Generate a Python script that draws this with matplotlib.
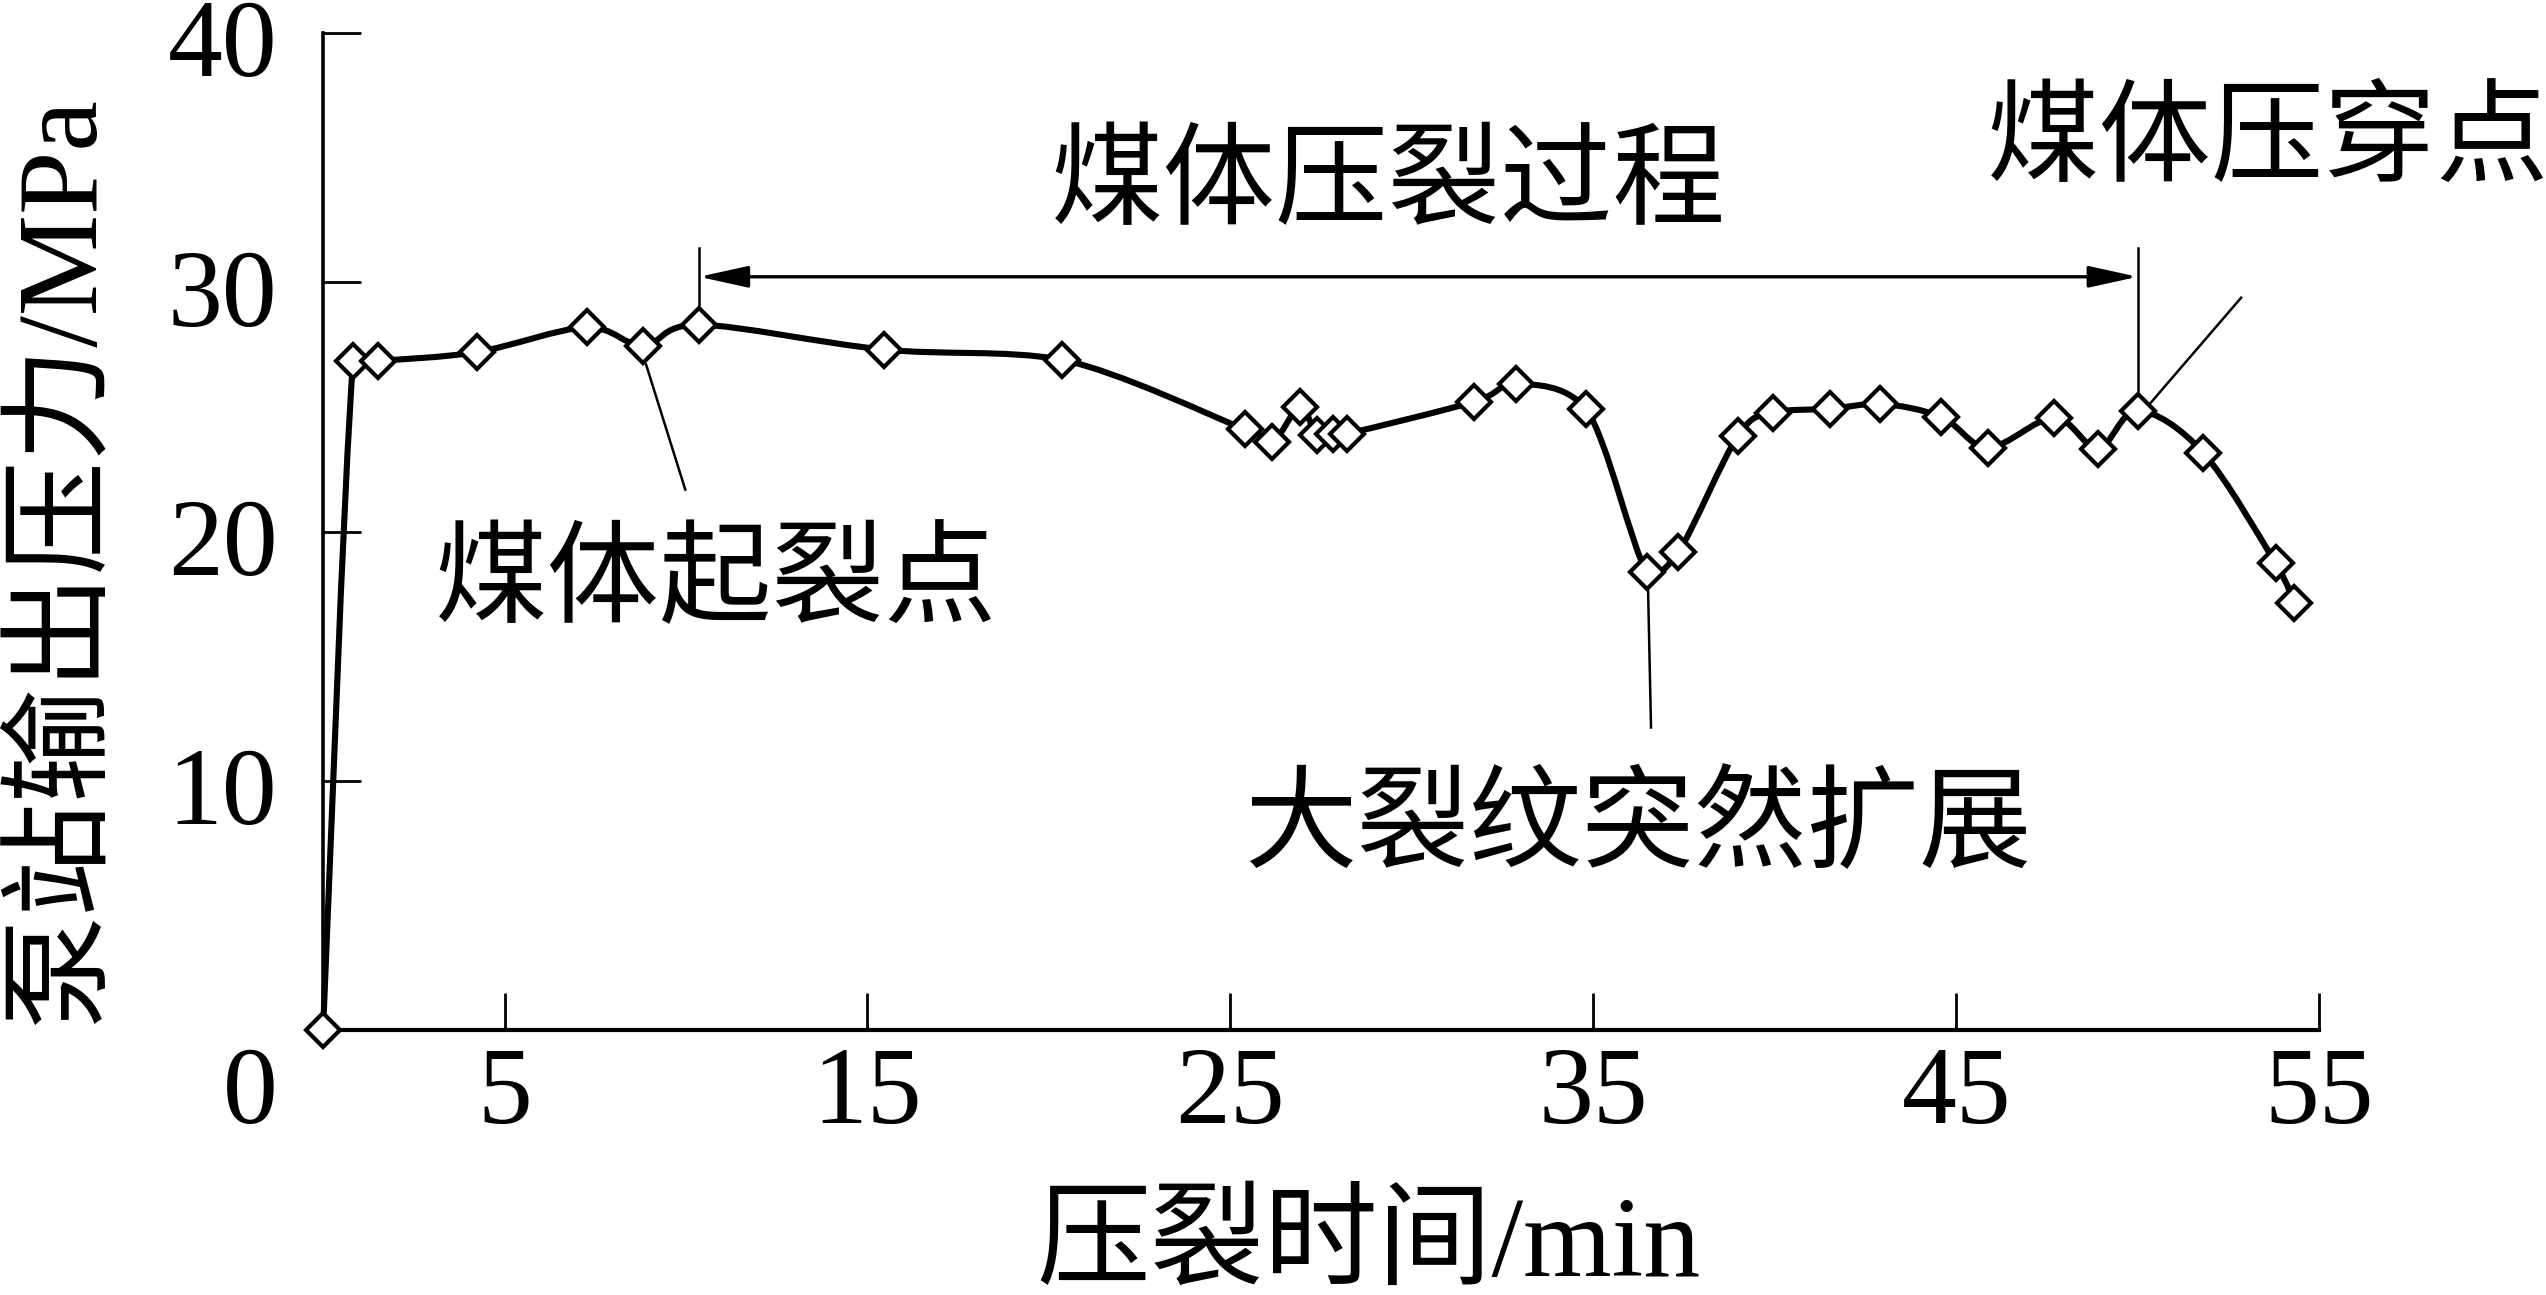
import numpy as np
import matplotlib
matplotlib.use("Agg")
import matplotlib.pyplot as plt
import matplotlib.transforms as mtransforms
from matplotlib.path import Path
from matplotlib.patches import PathPatch

plt.rcParams['font.family'] = ['Liberation Serif', 'Noto Sans CJK SC']

# temps de fracturation (min) et pression de sortie de la pompe (MPa)
temps = [0, 0.83, 1.52, 4.24, 7.27, 8.82, 10.36, 15.46, 20.36, 25.4, 26.15, 26.92,
         27.38, 27.82, 28.2, 31.7, 32.87, 34.8, 36.48, 37.34, 38.99, 39.96, 41.53,
         42.9, 44.59, 45.88, 47.7, 48.9, 50.0, 51.8, 53.8, 54.3]
pression = [0, 26.85, 26.85, 27.2, 28.2, 27.45, 28.3, 27.3, 26.9, 24.1, 23.6, 25.0,
            23.88, 23.92, 23.92, 25.2, 25.93, 24.93, 18.36, 19.16, 23.85, 24.77, 24.93,
            25.13, 24.6, 23.37, 24.57, 23.33, 24.85, 23.17, 18.72, 17.15]

xticks = [5, 15, 25, 35, 45, 55]
yticks = [10, 20, 30, 40]

i_debut = 6    # 煤体压裂过程 debut
i_fin = 28     # 煤体压穿点
i_qilie = 5    # 煤体起裂点
i_kuozhan = 18 # 大裂纹突然扩展

fig = plt.figure(figsize=(25.46, 12.95), dpi=100)
ax = fig.add_axes([0.1269, 0.2046, 0.784, 0.7699])

# courbe lissee (bezier type catmull-rom, points de controle bornes pour eviter les depassements)
P = np.column_stack([temps, pression])
n = len(P)
verts = [P[0]]
codes = [Path.MOVETO]
for i in range(n - 1):
    p0 = P[i - 1] if i > 0 else P[i]
    p3 = P[i + 2] if i + 2 < n else P[i + 1]
    c1 = P[i] + (P[i + 1] - p0) / 6
    c2 = P[i + 1] - (p3 - P[i]) / 6
    lo, hi = min(P[i][1], P[i + 1][1]), max(P[i][1], P[i + 1][1])
    c1[1] = np.clip(c1[1], lo, hi)
    c2[1] = np.clip(c2[1], lo, hi)
    verts += [c1, c2, P[i + 1]]
    codes += [Path.CURVE4] * 3
ax.add_patch(PathPatch(Path(verts, codes), fill=False, lw=4.4, ec='black',
                       zorder=3, clip_on=False))
ax.plot(temps, pression, ls='none', marker='D', ms=17.5, mfc='white', mec='black',
        mew=3, clip_on=False, zorder=4)

ax.set_xlim(0, 55)
ax.set_ylim(0, 40)
ax.set_xticks(xticks)
ax.set_yticks(yticks)
for s in ['top', 'right']:
    ax.spines[s].set_visible(False)
ax.spines['left'].set_linewidth(2.6)
ax.spines['bottom'].set_linewidth(3.0)
ax.tick_params(direction='in', length=27, width=2, labelsize=79)
ax.tick_params(axis='x', pad=12)
ax.tick_params(axis='y', pad=33)
decalage = mtransforms.ScaledTranslation(0, -5 / 100, fig.dpi_scale_trans)
for lbl in ax.get_yticklabels():
    lbl.set_transform(lbl.get_transform() + decalage)
ax.annotate('0', xy=(0, 0), xytext=(-33, -12), textcoords='offset points',
            ha='right', va='top', fontsize=79)

fig.text(1368 / 2546, 0.015, '压裂时间/min', ha='center', va='baseline', fontsize=82)
fig.text(0.0247, 1 - 560 / 1295, '泵站输出压力/MPa', rotation=90, ha='center',
         va='center', fontsize=82)

# fleche du processus de fracturation
ax.annotate('', xy=(temps[i_debut], 30.22), xytext=(temps[i_fin], 30.22),
            arrowprops=dict(arrowstyle='<|-|>,head_length=1.5,head_width=0.33',
                            mutation_scale=20, lw=2.4, color='black',
                            shrinkA=0, shrinkB=0))
ax.plot([temps[i_debut]] * 2, [31.38, pression[i_debut] + 0.8], color='black', lw=1.8)
ax.plot([temps[i_fin]] * 2, [31.38, pression[i_fin] + 0.8], color='black', lw=1.8)
ax.text(29.35, 33.75, '煤体压裂过程', ha='center', va='center', fontsize=81)

# lignes de rappel
ax.plot([temps[i_qilie] + 0.08, 9.98], [pression[i_qilie] - 0.75, 21.68], color='black', lw=1.8)
ax.text(10.83, 17.83, '煤体起裂点', ha='center', va='center', fontsize=81)
ax.plot([temps[i_kuozhan] + 0.03, 36.59], [pression[i_kuozhan] - 0.75, 12.14], color='black', lw=1.8)
ax.text(36.24, 8.0, '大裂纹突然扩展', ha='center', va='center', fontsize=81)
ax.plot([temps[i_fin] + 0.35, 52.85], [pression[i_fin] + 0.3, 29.38], color='black', lw=1.8,
        clip_on=False)
ax.text(53.6, 35.5, '煤体压穿点', ha='center', va='center', fontsize=81, clip_on=False)

fig.savefig('out.png', dpi=100)
